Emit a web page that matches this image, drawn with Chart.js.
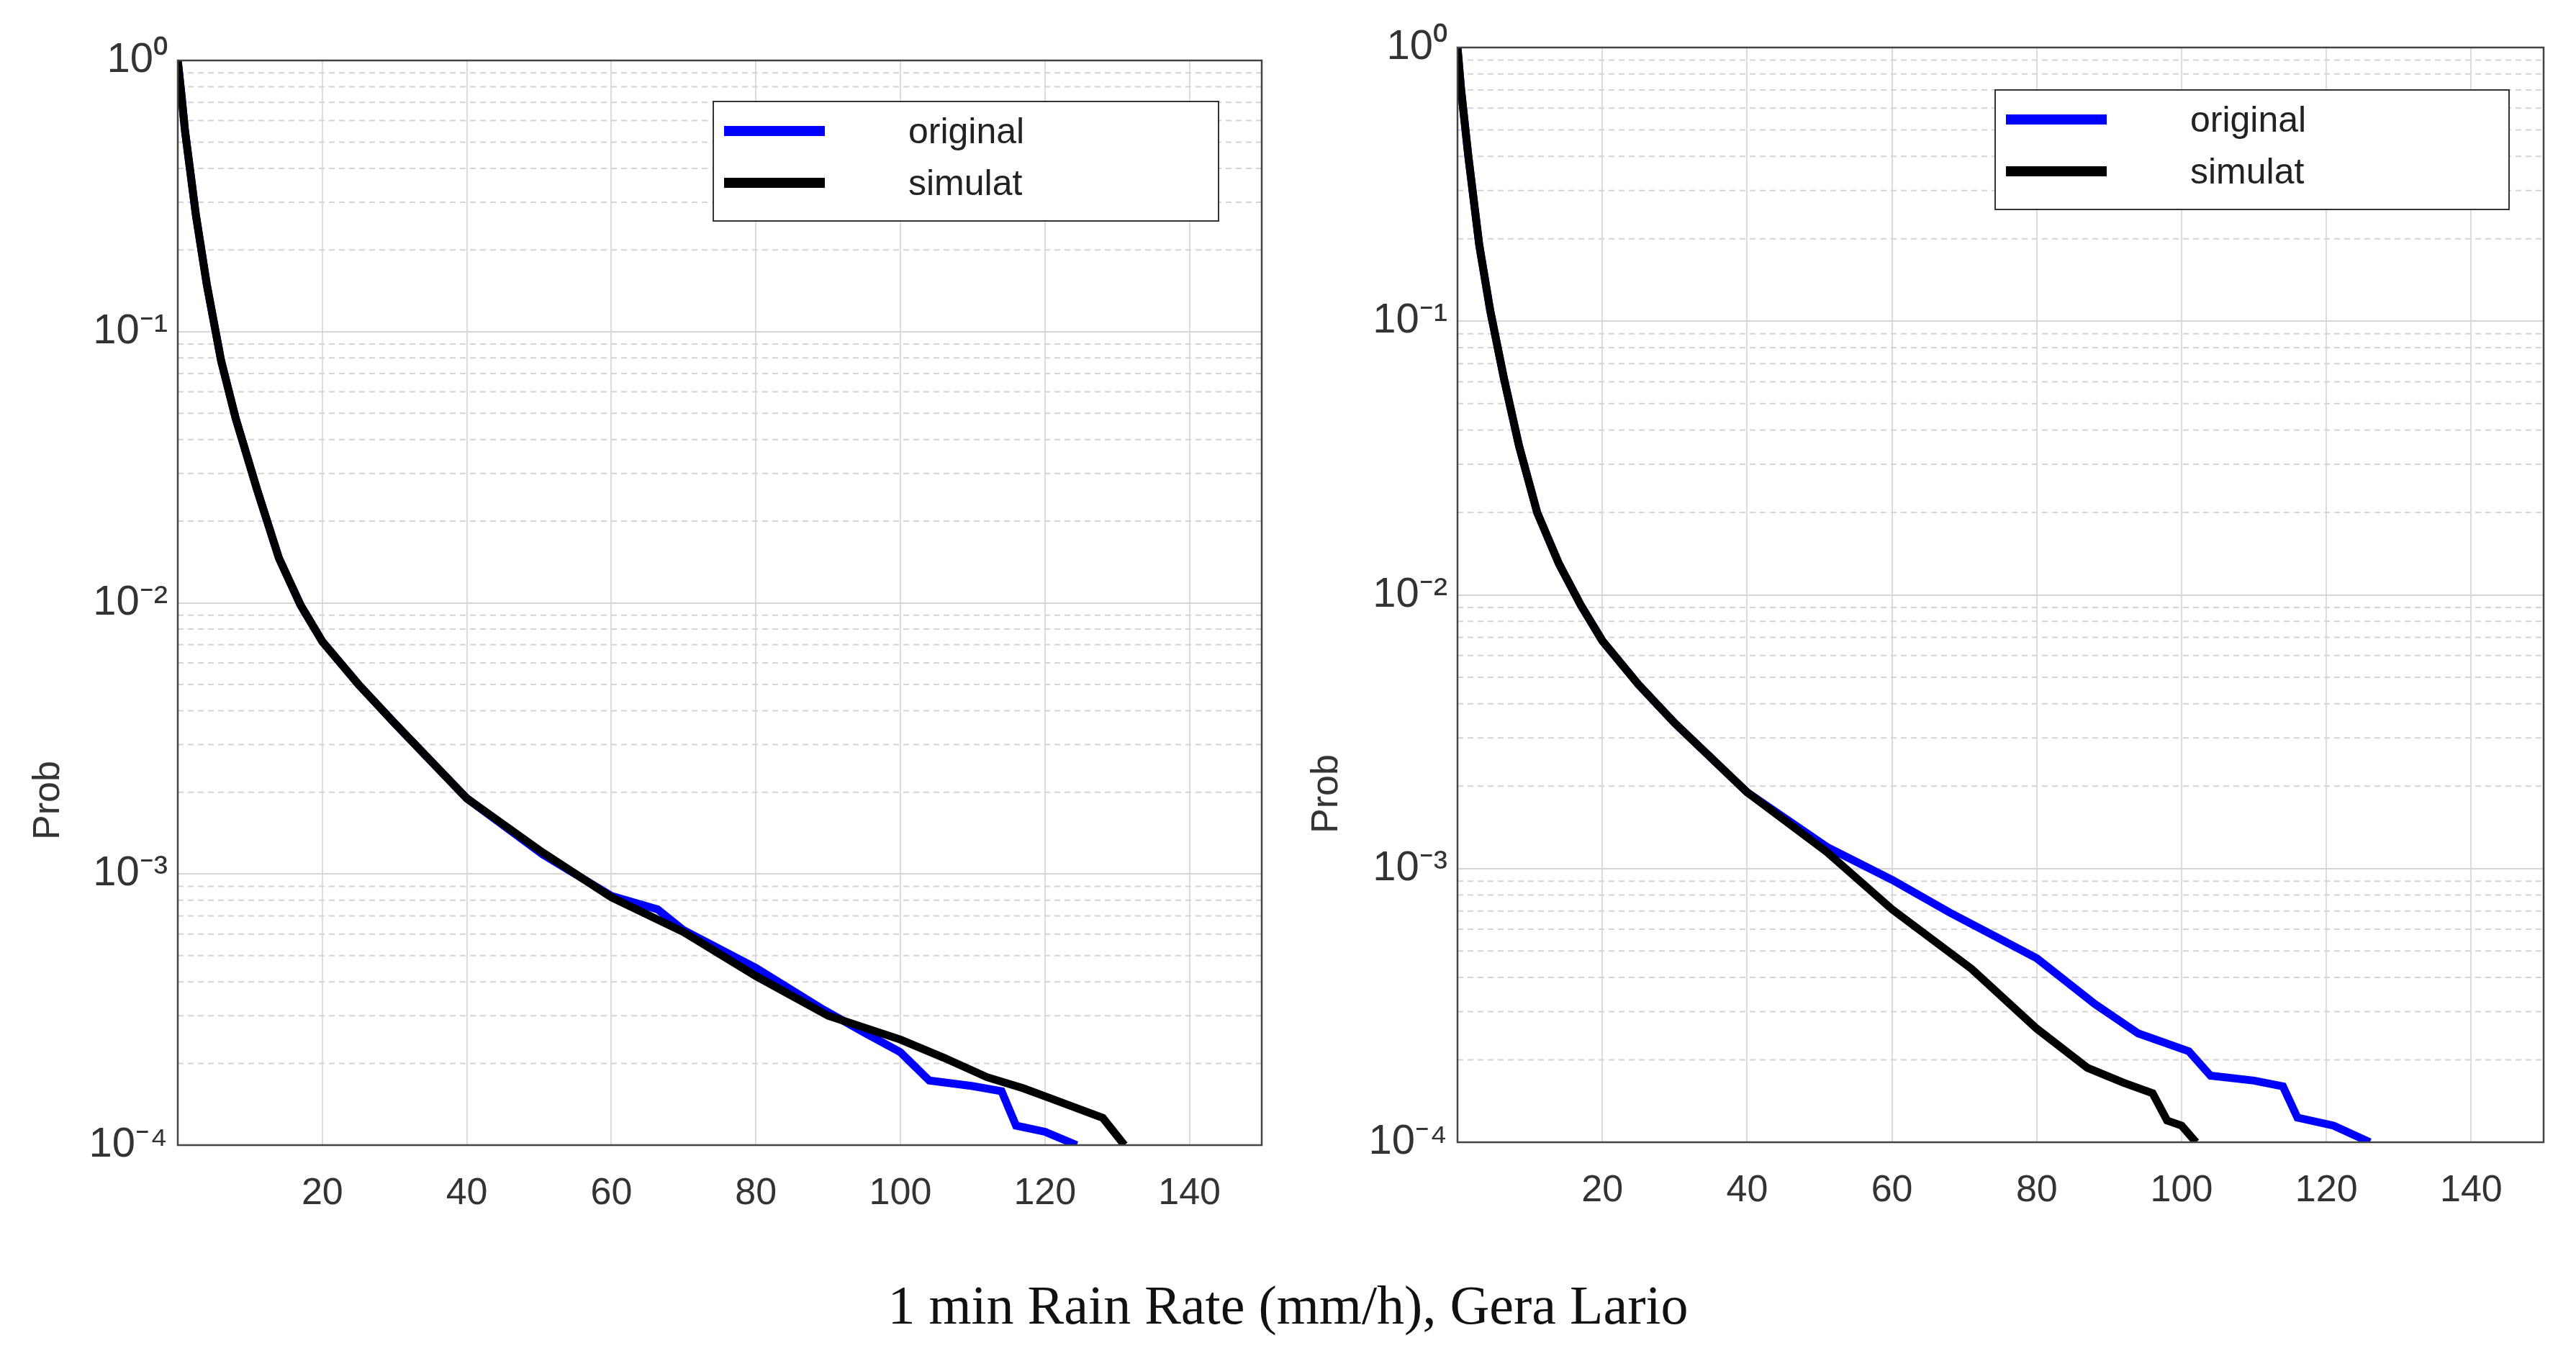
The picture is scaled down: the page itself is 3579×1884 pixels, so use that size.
<!DOCTYPE html>
<html><head><meta charset="utf-8">
<script src="https://cdn.jsdelivr.net/npm/chart.js@4/dist/chart.umd.min.js"></script>
<style>
body{margin:0;background:#fff;width:3579px;height:1884px;position:relative;overflow:hidden;font-family:"Liberation Sans",Arial,sans-serif}
.wrap{position:absolute;top:0;height:1720px}
.legend{position:absolute;background:#fff;border:2px solid #333;font-size:50px;color:#222}
.legend div{position:relative;height:72px;line-height:72px}
.legend span.ln{position:absolute;left:14px;top:29px;width:140px;height:14px}
.legend span.tx{position:absolute;left:270px}
.prob{position:absolute;font-size:52px;color:#333;transform:translate(-50%,-50%) rotate(-90deg)}
#cap{position:absolute;top:1770px;width:3579px;text-align:center;font-family:"Liberation Serif","DejaVu Serif",serif;font-size:76px;color:#111}
</style></head><body>
<div class="wrap" style="left:0;width:1790px"><canvas id="c1"></canvas></div>
<div class="wrap" style="left:1790px;width:1789px"><canvas id="c2"></canvas></div>
<div class="prob" style="left:64px;top:1112px">Prob</div>
<div class="prob" style="left:1840px;top:1103px">Prob</div>
<div class="legend" style="left:990px;top:140px;width:700px;height:160px;padding-top:4px">
 <div><span class="ln" style="background:#0000ff"></span><span class="tx">original</span></div>
 <div><span class="ln" style="background:#000"></span><span class="tx">simulat</span></div>
</div>
<div class="legend" style="left:2771px;top:124px;width:712px;height:160px;padding-top:4px">
 <div><span class="ln" style="background:#0000ff"></span><span class="tx">original</span></div>
 <div><span class="ln" style="background:#000"></span><span class="tx">simulat</span></div>
</div>
<div id="cap">1 min Rain Rate (mm/h), Gera Lario</div>
<script>
const xTicks=[20,40,60,80,100,120,140];
const yTickLabels={'1':'10⁰','0.1':'10⁻¹','0.01':'10⁻²','0.001':'10⁻³','0.0001':'10⁻⁴'};
const leftOrigX=[0,0.5,1,2.5,4,6,8,11,14,17,20,25,30,40,50.5,60,66.4,70,80,89,95,100,104,110,114,116,120,124.4];
const leftOrigY=[1,0.75,0.55,0.27,0.15,0.078,0.048,0.026,0.0146,0.0098,0.0072,0.005,0.0036,0.0019,0.00118,0.00083,0.00074,0.00062,0.00045,0.00032,0.00026,0.00022,0.000173,0.000165,0.000158,0.000118,0.000112,0.0001];
const leftSimX=[0,0.5,1,2.5,4,6,8,11,14,17,20,25,30,40,50.5,60,70,80,90,100,106,112,117,121,125,128,131];
const leftSimY=[1,0.75,0.55,0.27,0.15,0.078,0.048,0.026,0.0146,0.0098,0.0072,0.005,0.0036,0.0019,0.0012,0.00082,0.00061,0.00042,0.0003,0.000245,0.00021,0.000178,0.000162,0.000148,0.000135,0.000126,0.0001];
const rightOrigX=[0,0.5,1.5,3,4.5,6.4,8.5,11,14,17,20,25,30,40,51,60,68,74,80,88,94,101,104,110,114,116,121,126];
const rightOrigY=[1,0.7,0.4,0.19,0.11,0.062,0.035,0.02,0.013,0.0092,0.0068,0.0047,0.0034,0.0019,0.0012,0.00091,0.00069,0.00057,0.00047,0.00032,0.00025,0.000215,0.000175,0.000168,0.00016,0.000123,0.000115,0.0001];
const rightSimX=[0,0.5,1.5,3,4.5,6.4,8.5,11,14,17,20,25,30,40,51,60,71,80,87,92,96,98,100,102];
const rightSimY=[1,0.7,0.4,0.19,0.11,0.062,0.035,0.02,0.013,0.0092,0.0068,0.0047,0.0034,0.0019,0.00115,0.00071,0.00043,0.00026,0.000187,0.000165,0.000151,0.00012,0.000115,0.0001];

const pts=(xs,ys)=>xs.map((x,i)=>({x,y:ys[i]}));
const isMajor=v=>Math.abs(Math.log10(v)-Math.round(Math.log10(v)))<1e-6;
const framePlugin={id:'frame',
 beforeDatasetsDraw(ch){const {ctx,chartArea:a,scales:{y}}=ch;ctx.save();ctx.strokeStyle='#d4d4d4';ctx.lineWidth=2;ctx.setLineDash([8,6]);
  for(let e=-4;e<0;e++)for(let m=2;m<=9;m++){const py=y.getPixelForValue(m*Math.pow(10,e));ctx.beginPath();ctx.moveTo(a.left,py);ctx.lineTo(a.right,py);ctx.stroke();}
  ctx.restore();},
 afterDraw(ch){const {ctx,chartArea:a}=ch;ctx.save();ctx.strokeStyle='#444';ctx.lineWidth=2.5;ctx.strokeRect(a.left,a.top,a.right-a.left,a.bottom-a.top);ctx.restore();}};
function make(id,orig,sim,pad,xh){
 new Chart(document.getElementById(id),{type:'line',
  data:{datasets:[{data:sim,borderColor:'#000',borderWidth:11,pointRadius:0,tension:0},
                  {data:orig,borderColor:'#0000ff',borderWidth:11,pointRadius:0,tension:0}]},
  options:{responsive:true,maintainAspectRatio:false,animation:false,devicePixelRatio:1,
   layout:{padding:pad},
   plugins:{legend:{display:false},tooltip:{enabled:false}},
   scales:{
    x:{type:'linear',min:0,max:150,
     afterBuildTicks:s=>{s.ticks=[0,...xTicks,150].map(v=>({value:v}));},
     afterFit:s=>{s.height=xh;},
     ticks:{autoSkip:false,maxRotation:0,padding:36,color:'#333',font:{size:52,family:'Liberation Sans'},callback:v=>xTicks.includes(v)?String(v):''},
     grid:{color:'#dcdcdc',lineWidth:2,drawTicks:false},border:{display:false}},
    y:{type:'logarithmic',min:0.0001,max:1,
     afterFit:s=>{s.width=pad.yw;},
     ticks:{autoSkip:false,padding:14,color:'#333',font:{size:58,family:'Liberation Sans'},callback:v=>{const k=String(+v);return yTickLabels[k]||'';}},
     grid:{color:c=>isMajor(c.tick.value)?'#d6d6d6':'rgba(0,0,0,0)',lineWidth:2,drawTicks:false},border:{display:false}}
   }},plugins:[framePlugin]});
}
make('c1',pts(leftOrigX,leftOrigY),pts(leftSimX,leftSimY),{top:84,right:37,left:0,bottom:0,yw:247},129);
make('c2',pts(rightOrigX,rightOrigY),pts(rightSimX,rightSimY),{top:66,right:45,left:0,bottom:0,yw:235},133);
</script></body></html>
